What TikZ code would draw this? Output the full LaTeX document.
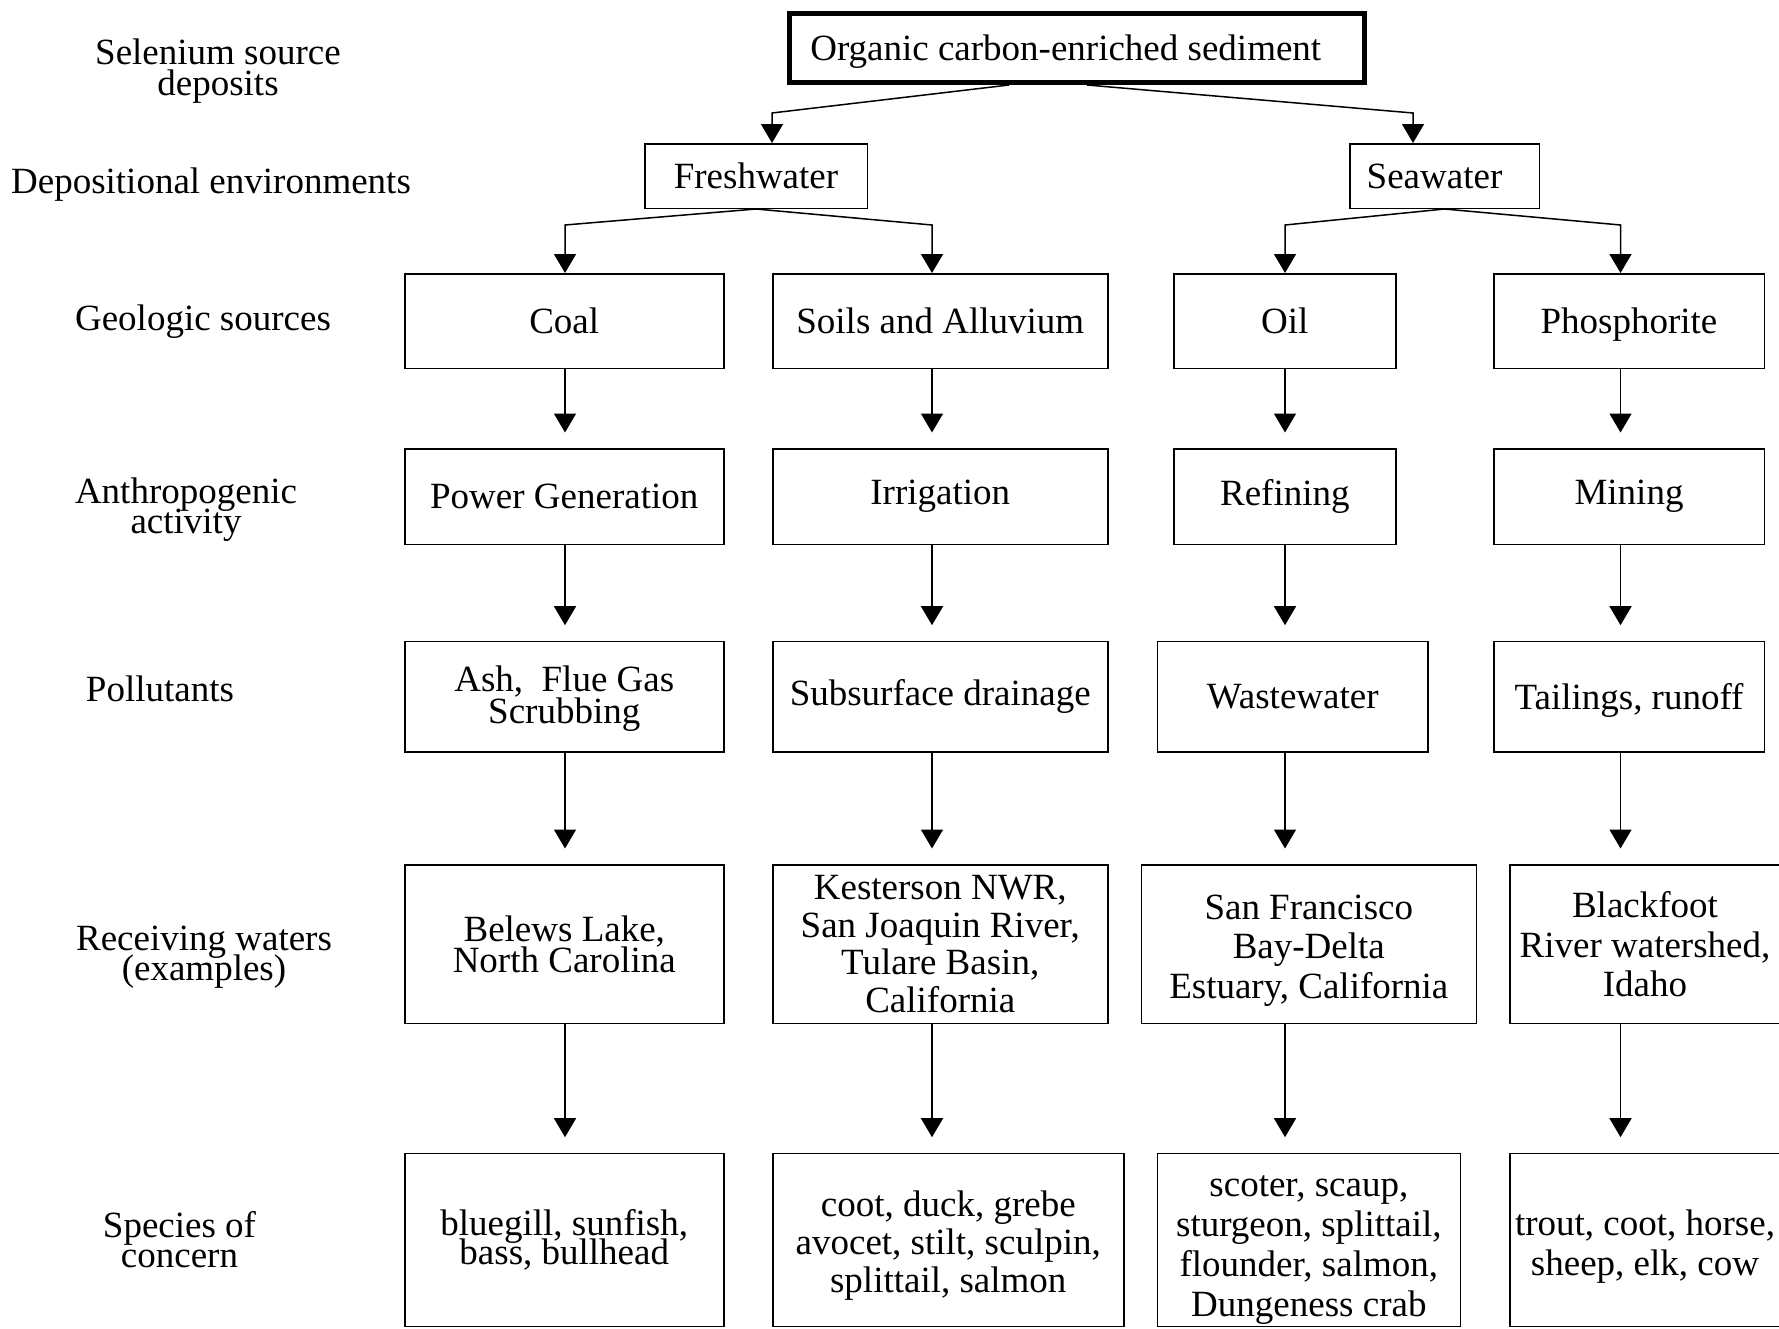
\documentclass[tikz,border=0pt]{standalone}
\usepackage{fontspec}
\setmainfont{Liberation Serif}
\usetikzlibrary{arrows.meta,calc}
\newcommand{\myfs}[1]{\fontsize{37}{#1}\selectfont\lineskiplimit=-100pt\lineskip=0pt}
\newcommand{\upstrut}[1]{\rule{0pt}{#1pt}}
\begin{document}
\begin{tikzpicture}[x=1pt,y=-1pt,
  box/.style={draw, line width=1.5pt, inner sep=0pt, align=center},
  lab/.style={inner sep=0pt, align=center, anchor=center},
  arr/.style={-{Triangle[length=19pt,width=22pt]}, line width=1.5pt},
  gap/.style={shorten >=15.5pt},
  font=\myfs{37}]
\useasboundingbox (0,0) rectangle (1779,1328);
\fill[white] (0,0) rectangle (1779,1328);

% left labels
\node[lab, font=\myfs{31}] (l1) at (218,71) {Selenium source\\deposits};
\node[lab] (l2) at (211,184.35) {Depositional environments};
\node[lab] (l3) at (203,321.35) {Geologic sources};
\node[lab, font=\myfs{30.5}] (l4) at (186,509.5) {Anthropogenic\\activity};
\node[lab] (l5) at (160,689.05) {Pollutants};
\node[lab, font=\myfs{30.5}] (l6) at (204,957) {Receiving waters\\(examples)};
\node[lab, font=\myfs{30}] (l7) at (179.5,1239.35) {Species of\\concern};

% boxes
\node[box, line width=5.5pt, text depth=0pt, minimum width=575pt, minimum height=68.8pt] (top) at (1076.75,47.85) {Organic carbon-enriched sediment\hspace*{22pt}};
\node[box, minimum width=222.5pt, minimum height=64.5pt] (fresh) at (756,176) {Freshwater};
\node[box, minimum width=189.5pt, minimum height=64.5pt] (sea) at (1444.5,176) {Seawater\hspace*{20pt}};

\node[box, minimum width=319pt, minimum height=94.5pt] (coal) at (564.25,321) {Coal};
\node[box, minimum width=335pt, minimum height=94.5pt] (soils) at (940.25,321) {Soils and Alluvium};
\node[box, minimum width=222pt, minimum height=94.5pt] (oil) at (1284.8,321) {Oil};
\node[box, text depth=0pt, minimum width=270.5pt, minimum height=94.5pt] (phos) at (1629,321) {Phosphorite};

\node[box, minimum width=319pt, minimum height=95.5pt] (power) at (564.25,496.5) {Power Generation};
\node[box, minimum width=335pt, minimum height=95.5pt] (irr) at (940.25,496.5) {Irrigation};
\node[box, minimum width=222pt, minimum height=95.5pt] (refin) at (1284.8,496.5) {Refining};
\node[box, minimum width=270.5pt, minimum height=95.5pt] (mine) at (1629,496.5) {Mining};

\node[box, font=\myfs{32.5}, minimum width=319pt, minimum height=110.5pt] (ash) at (564.25,696.7) {\upstrut{30}Ash,\ \ Flue Gas\\Scrubbing};
\node[box, minimum width=335pt, minimum height=110.5pt] (sub) at (940.25,696.7) {Subsurface drainage};
\node[box, minimum width=270.5pt, minimum height=110.5pt] (waste) at (1292.75,696.7) {Wastewater};
\node[box, text depth=0pt, minimum width=270.5pt, minimum height=110.5pt] (tail) at (1629,696.7) {Tailings, runoff};

\node[box, font=\myfs{31.4}, minimum width=319pt, minimum height=158.8pt] (belews) at (564.25,944.15) {Belews Lake,\\North Carolina};
\node[box, font=\myfs{37.7}, minimum width=335pt, minimum height=158.8pt] (kest) at (940.25,944.15) {Kesterson NWR,\\San Joaquin River,\\Tulare Basin,\\California};
\node[box, font=\myfs{39.5}, minimum width=335pt, minimum height=158.8pt] (sf) at (1308.8,944.15) {\upstrut{37.3}San Francisco\\Bay-Delta\\Estuary, California};
\node[box, font=\myfs{39.5}, minimum width=270.5pt, minimum height=158.8pt] (black) at (1645,944.15) {Blackfoot\\River watershed,\\Idaho};

\node[box, font=\myfs{29.5}, minimum width=319pt, minimum height=172.8pt] (blue) at (564.25,1239.85) {bluegill, sunfish,\\bass, bullhead};
\node[box, font=\myfs{38}, minimum width=351pt, minimum height=172.8pt] (coot) at (948.25,1239.85) {\upstrut{36.3}coot, duck, grebe\\avocet, stilt, sculpin,\\splittail, salmon};
\node[box, font=\myfs{40}, minimum width=302.8pt, minimum height=172.8pt] (scoter) at (1308.85,1239.85) {\upstrut{41.3}scoter, scaup,\\sturgeon, splittail,\\flounder, salmon,\\Dungeness crab};
\node[box, font=\myfs{40}, minimum width=270.5pt, minimum height=172.8pt] (trout) at (1645,1239.85) {\upstrut{39.3}trout, coot, horse,\\sheep, elk, cow};

% bend points
\coordinate (bl) at (772,113);
\coordinate (br) at (1413,113);
\coordinate (b1) at (565,225);
\coordinate (b2) at (932,225);
\coordinate (b3) at (1285,225);
\coordinate (b4) at (1620.5,225);

% connectors
\draw[arr] ([xshift=-67.75pt]top.south) -- (bl) -- (fresh.north -| bl);
\draw[arr] ([xshift=10.25pt]top.south) -- (br) -- (sea.north -| br);
\draw[arr] (fresh.south) -- (b1) -- (coal.north -| b1);
\draw[arr] (fresh.south) -- (b2) -- (soils.north -| b2);
\draw[arr] (sea.south) -- (b3) -- (oil.north -| b3);
\draw[arr] (sea.south) -- (b4) -- (phos.north -| b4);

\draw[arr,gap] (coal.south -| b1) -- (power.north -| b1);
\draw[arr,gap] (soils.south -| b2) -- (irr.north -| b2);
\draw[arr,gap] (oil.south -| b3) -- (refin.north -| b3);
\draw[arr,gap] (phos.south -| b4) -- (mine.north -| b4);

\draw[arr,gap] (power.south -| b1) -- (ash.north -| b1);
\draw[arr,gap] (irr.south -| b2) -- (sub.north -| b2);
\draw[arr,gap] (refin.south -| b3) -- (waste.north -| b3);
\draw[arr,gap] (mine.south -| b4) -- (tail.north -| b4);

\draw[arr,gap] (ash.south -| b1) -- (belews.north -| b1);
\draw[arr,gap] (sub.south -| b2) -- (kest.north -| b2);
\draw[arr,gap] (waste.south -| b3) -- (sf.north -| b3);
\draw[arr,gap] (tail.south -| b4) -- (black.north -| b4);

\draw[arr,gap] (belews.south -| b1) -- (blue.north -| b1);
\draw[arr,gap] (kest.south -| b2) -- (coot.north -| b2);
\draw[arr,gap] (sf.south -| b3) -- (scoter.north -| b3);
\draw[arr,gap] (black.south -| b4) -- (trout.north -| b4);
\end{tikzpicture}
\end{document}
